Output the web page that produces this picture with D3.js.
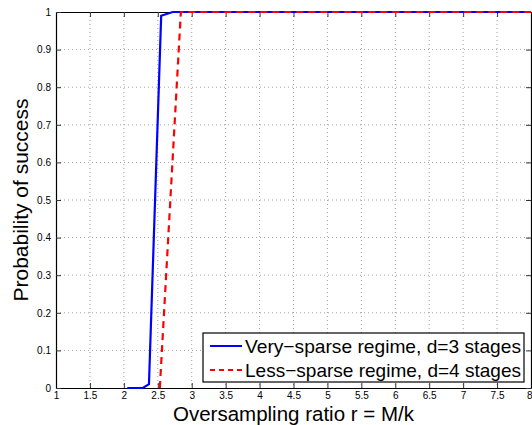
<!DOCTYPE html>
<html>
<head>
<meta charset="utf-8">
<script src="https://cdn.jsdelivr.net/npm/d3@7"></script>
<style>
  body { margin: 0; background: #fff; }
  svg { font-family: "Liberation Sans", Arial, sans-serif; }
</style>
</head>
<body>
<div id="chart-area"></div>
<script>
// data
const xTicks = [1, 1.5, 2, 2.5, 3, 3.5, 4, 4.5, 5, 5.5, 6, 6.5, 7, 7.5, 8]
const yTicks = [0, 0.1, 0.2, 0.3, 0.4, 0.5, 0.6, 0.7, 0.8, 0.9, 1]

const veryX = [2.05, 2.28, 2.37, 2.55, 2.72, 3, 4, 5, 6, 7, 8]
const veryY = [0, 0, 0.01, 0.99, 1, 1, 1, 1, 1, 1, 1]
const lessX = [2.53, 2.84, 3, 4, 5, 6, 7, 8]
const lessY = [0, 1, 1, 1, 1, 1, 1, 1]

const legendNames = ["Very\u2212sparse regime, d=3 stages", "Less\u2212sparse regime, d=4 stages"]

const W = 532, H = 425
const plotL = 56, plotR = 531, plotT = 12, plotB = 388

const svg = d3.select("#chart-area").append("svg")
    .attr("width", W)
    .attr("height", H)

const x = d3.scaleLinear().domain([1, 8]).range([plotL, plotR])
const y = d3.scaleLinear().domain([0, 1]).range([plotB, plotT])

// dotted grid
svg.append("g").selectAll("line")
    .data(xTicks.slice(1, -1))
    .enter().append("line")
    .attr("x1", d => x(d)).attr("x2", d => x(d))
    .attr("y1", plotT).attr("y2", plotB)
    .attr("stroke", "#8a8a8a")
    .attr("stroke-width", 0.8)
    .attr("stroke-dasharray", "1,3")
svg.append("g").selectAll("line")
    .data(yTicks.slice(1, -1))
    .enter().append("line")
    .attr("x1", plotL).attr("x2", plotR)
    .attr("y1", d => y(d)).attr("y2", d => y(d))
    .attr("stroke", "#8a8a8a")
    .attr("stroke-width", 0.8)
    .attr("stroke-dasharray", "1,3")

// axes, ticks pointing inside like matlab
const xAxis = svg.append("g")
    .attr("transform", `translate(0,${plotB})`)
    .call(d3.axisBottom(x).tickValues(xTicks).tickSizeInner(-5).tickSizeOuter(0).tickPadding(4).tickFormat(d3.format("")))
svg.append("g")
    .attr("transform", `translate(0,${plotT})`)
    .call(d3.axisTop(x).tickValues(xTicks).tickSizeInner(-5).tickSizeOuter(0).tickFormat(""))
svg.append("g")
    .attr("transform", `translate(${plotL},0)`)
    .call(d3.axisLeft(y).tickValues(yTicks).tickSizeInner(-5).tickSizeOuter(0).tickPadding(5).tickFormat(d3.format("")))
svg.append("g")
    .attr("transform", `translate(${plotR},0)`)
    .call(d3.axisRight(y).tickValues(yTicks).tickSizeInner(-5).tickSizeOuter(0).tickFormat(""))

svg.selectAll(".domain").attr("stroke", "#000").attr("stroke-width", 1.2)
svg.selectAll(".tick line").attr("stroke", "#333")
svg.selectAll(".tick text").attr("font-size", 10).attr("fill", "#000")
    .attr("font-family", "'Liberation Sans', Arial, sans-serif")
// last x label sits at the window edge, keep it inside
xAxis.selectAll(".tick text").filter(d => d === 8)
    .attr("text-anchor", "end").attr("dx", 1)

// lines
const line = d3.line().x(d => x(d[0])).y(d => y(d[1]))
svg.append("path")
    .datum(d3.zip(veryX, veryY))
    .attr("d", line)
    .attr("fill", "none")
    .attr("stroke", "#0000ff")
    .attr("stroke-width", 2.2)
svg.append("path")
    .datum(d3.zip(lessX, lessY))
    .attr("d", line)
    .attr("fill", "none")
    .attr("stroke", "#ff0000")
    .attr("stroke-width", 2.2)
    .attr("stroke-dasharray", "7,5")

// axis titles
svg.append("text")
    .attr("x", (plotL + plotR) / 2)
    .attr("y", 421)
    .attr("text-anchor", "middle")
    .attr("font-size", 20.5)
    .text("Oversampling ratio r = M/k")
svg.append("text")
    .attr("transform", `translate(28,${(plotT + plotB) / 2}) rotate(-90)`)
    .attr("text-anchor", "middle")
    .attr("font-size", 21)
    .text("Probability of success")

// legend
const lg = svg.append("g")
lg.append("rect")
    .attr("x", 203).attr("y", 333)
    .attr("width", 321).attr("height", 49)
    .attr("fill", "#fff")
    .attr("stroke", "#000")
    .attr("stroke-width", 1.2)
const styles = [{ c: "#0000ff", dash: null }, { c: "#ff0000", dash: "5,4" }]
legendNames.forEach((name, i) => {
    const cy = 346 + i * 24
    lg.append("line")
        .attr("x1", 210).attr("x2", 242)
        .attr("y1", cy).attr("y2", cy)
        .attr("stroke", styles[i].c)
        .attr("stroke-width", 2)
        .attr("stroke-dasharray", styles[i].dash)
    lg.append("text")
        .attr("x", 245).attr("y", cy + 6.5)
        .attr("font-size", 19)
        .attr("textLength", 276)
        .attr("lengthAdjust", "spacingAndGlyphs")
        .text(name)
})
</script>
</body>
</html>
